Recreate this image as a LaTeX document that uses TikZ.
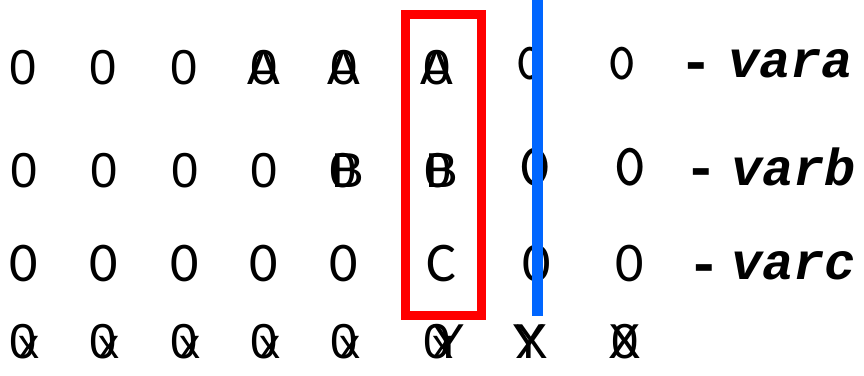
\documentclass[tikz,border=0pt]{standalone}
\usepackage{fontspec}
\newfontfamily\arialf{Liberation Sans}
\newfontfamily\calibf{Carlito}
\newfontfamily\monof{Liberation Mono}
\definecolor{rd}{RGB}{255,0,0}
\definecolor{bl}{RGB}{0,102,255}
\tikzset{
  g/.style={inner sep=0pt, anchor=base},
  sa/.style={g, font=\arialf\fontsize{49}{49}\selectfont},
  sc/.style={g, font=\calibf\fontsize{56}{56}\selectfont},
  sm/.style={g, font=\ttfamily\bfseries\fontsize{52}{52}\selectfont},
  smb/.style={g, font=\ttfamily\bfseries\fontsize{60}{60}\selectfont},
  sx/.style={g, font=\arialf\fontsize{42}{42}\selectfont},
  dash line/.style={g, font=\monof\bfseries\fontsize{56}{56}\selectfont},
  vname/.style={inner sep=0pt, anchor=base west, font=\monof\bfseries\itshape\fontsize{52}{52}\selectfont},
  box/.style={draw=rd, line width=9pt},
  bar/.style={draw=bl, line width=11pt},
}
\begin{document}
\begin{tikzpicture}[x=1pt,y=-1pt]
\useasboundingbox (0,0) rectangle (864,375);
% row 1
\node[sa] (a1) at (23,84) {0};
\node[sa] (a2) at (103,84) {0};
\node[sa] (a3) at (184,84) {0};
\node[sa] (a4) at (264,84) {A};
\node[sa] (a4z) at (264,84) {0};
\node[sa] (a5) at (344,84) {A};
\node[sa] (a5z) at (344,84) {0};
\node[sa] (a6) at (437,84) {A};
\node[sa] (a6z) at (437,84) {0};
\node[sm] (a7) at (530,79) {0};
\node[sm] (a8) at (622,79) {0};
\node[dash line] (ad) at (696,80) {-};
\node[vname] (av) at (728,77) {vara};
% row 2
\node[sa] (b1) at (24,187) {0};
\node[sa] (b2) at (104,187) {0};
\node[sa] (b3) at (185,187) {0};
\node[sa] (b4) at (264,187) {0};
\node[sa] (b5) at (348,187) {B};
\node[sa] (b5z) at (343,187) {0};
\node[sa] (b6) at (442,187) {B};
\node[sa] (b6z) at (438,187) {0};
\node[smb] (b7) at (535,185) {0};
\node[smb] (b8) at (630,185) {0};
\node[dash line] (bd) at (701,186) {-};
\node[vname] (bv) at (731,185) {varb};
% row 3
\node[sc] (c1) at (24,281) {0};
\node[sc] (c2) at (104,281) {0};
\node[sc] (c3) at (185,281) {0};
\node[sc] (c4) at (264,281) {0};
\node[sc] (c5) at (344,281) {0};
\node[sc] (c6) at (441,281) {C};
\node[sc] (c7) at (537,281) {0};
\node[sc] (c8) at (630,281) {0};
\node[dash line] (cd) at (704,282) {-};
\node[vname] (cv) at (731,279) {varc};
% row 4
\foreach \i/\xx in {1/23,2/103,3/184,4/264,5/344}{
  \node[sa] (d\i) at (\xx,358) {0};
  \node[sx] (d\i x) at (\xx+6,358) {x};
}
\node[sa] (d6) at (437,358) {0};
\node[sx] (d6x) at (443,358) {x};
\node[sa] (d6y) at (449,358) {Y};
\node[sa] (d7) at (529,358) {Y};
\node[sa] (d7x) at (532,358) {X};
\node[sa] (d8) at (625,358) {0};
\node[sa] (d8x) at (625,358) {X};
% red box and blue bar
\coordinate (r1) at (405.5,14);
\coordinate (r2) at (481,315);
\draw[box] (r1) rectangle (r2);
\coordinate (u1) at (537.5,0);
\coordinate (u2) at (537.5,316);
\draw[bar] (u1) -- (u2);
\end{tikzpicture}
\end{document}
